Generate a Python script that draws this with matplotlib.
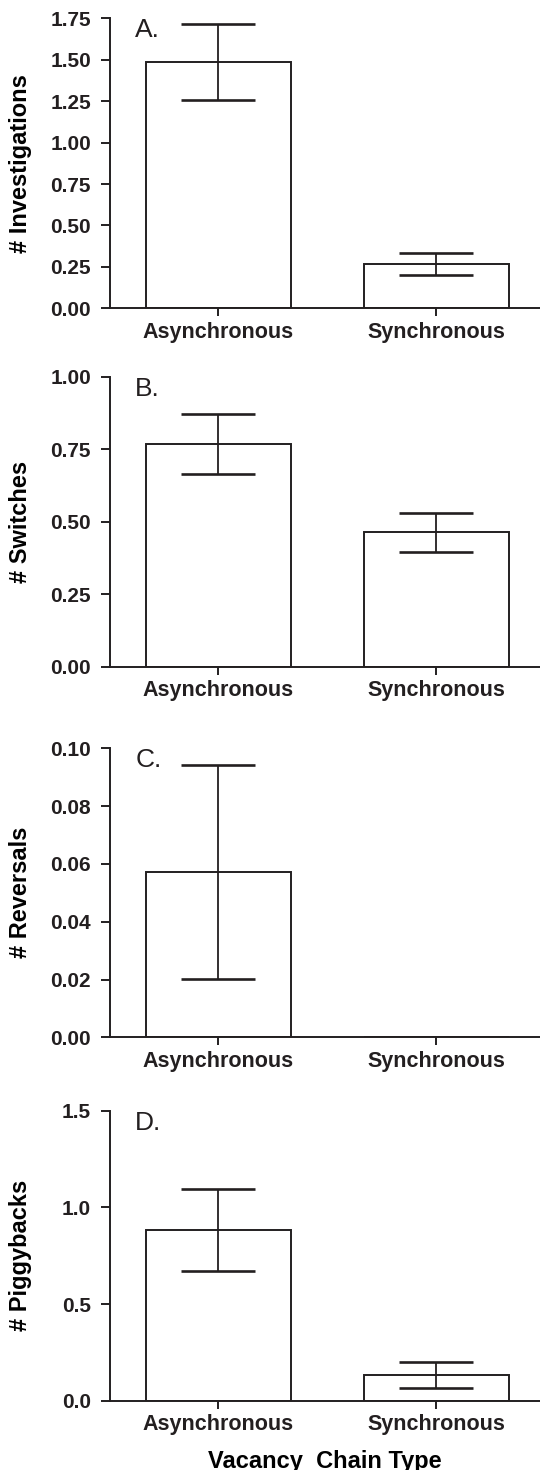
import numpy as np
import matplotlib
matplotlib.use("Agg")
import matplotlib.pyplot as plt

# ---------------------------------------------------------------- data ----
groups = ["Asynchronous", "Synchronous"]

investigations     = [1.485, 0.267]
investigations_err = [0.230, 0.068]

switches     = [0.768, 0.464]
switches_err = [0.102, 0.067]

reversals     = [0.0572, 0.0]
reversals_err = [0.0370, 0.0]

piggybacks     = [0.883, 0.133]
piggybacks_err = [0.210, 0.067]

panel_letters = ["A.", "B.", "C.", "D."]
y_labels = ["# Investigations", "# Switches", "# Reversals", "# Piggybacks"]
y_ticks = [np.arange(0, 1.76, 0.25), np.arange(0, 1.01, 0.25),
           np.arange(0, 0.101, 0.02), np.arange(0, 1.51, 0.5)]
y_fmt = ["%.2f", "%.2f", "%.2f", "%.1f"]
x_title = "Vacancy  Chain Type"

# ---------------------------------------------------------------- style ---
ink = "#231f20"
plt.rcParams["font.family"] = ["Liberation Sans", "DejaVu Sans"]
plt.rcParams["text.color"] = ink
plt.rcParams["axes.edgecolor"] = ink
plt.rcParams["xtick.color"] = ink
plt.rcParams["ytick.color"] = ink

fig = plt.figure(figsize=(5.4, 14.7), dpi=100)
H = 1470.0
# (top, bottom) of each axes in pixels
rows = [(18.3, 308.3), (376.7, 666.7), (748.3, 1037.3), (1110.7, 1400.7)]
left = 109.5 / 540

means = [investigations, switches, reversals, piggybacks]
errs = [investigations_err, switches_err, reversals_err, piggybacks_err]

x = np.arange(len(groups))

for i in range(4):
    top, bot = rows[i]
    ax = fig.add_axes([left, (H - bot) / H, 1 - left, (bot - top) / H])

    ax.bar(x, means[i], width=0.664, color="white", edgecolor=ink,
           linewidth=1.4, zorder=2)
    keep = [j for j in range(len(x)) if errs[i][j] > 0]
    ax.errorbar(x[keep], np.array(means[i])[keep],
                yerr=np.array(errs[i])[keep], fmt="none", ecolor=ink,
                elinewidth=1.3, capsize=26.5, capthick=1.9, zorder=3)

    ax.set_xlim(-0.5, 1.476)
    ax.set_ylim(0, y_ticks[i][-1])
    ax.set_yticks(y_ticks[i])
    ax.set_yticklabels([y_fmt[i] % v for v in y_ticks[i]],
                       fontsize=15, fontweight="bold")
    ax.set_xticks(x)
    ax.set_xticklabels(groups, fontsize=15.5, fontweight="bold")

    for s in ["top", "right"]:
        ax.spines[s].set_visible(False)
    for s in ["left", "bottom"]:
        ax.spines[s].set_linewidth(1.4)
    ax.tick_params(axis="y", direction="out", length=6.3, width=1.4, pad=7)
    ax.tick_params(axis="x", direction="out", length=5.8, width=1.4, pad=4)

    ax.set_ylabel(y_labels[i], fontsize=17, fontweight="bold")
    ax.yaxis.set_label_coords(-0.179, 0.5)

    ax.text(0.06, 1.0, panel_letters[i], transform=ax.transAxes,
            fontsize=19, ha="left", va="top")

    if i == 3:
        ax.set_xlabel(x_title, fontsize=17, fontweight="bold")
        ax.xaxis.set_label_coords(0.5, -0.169)

fig.savefig("out.png", dpi=100)
